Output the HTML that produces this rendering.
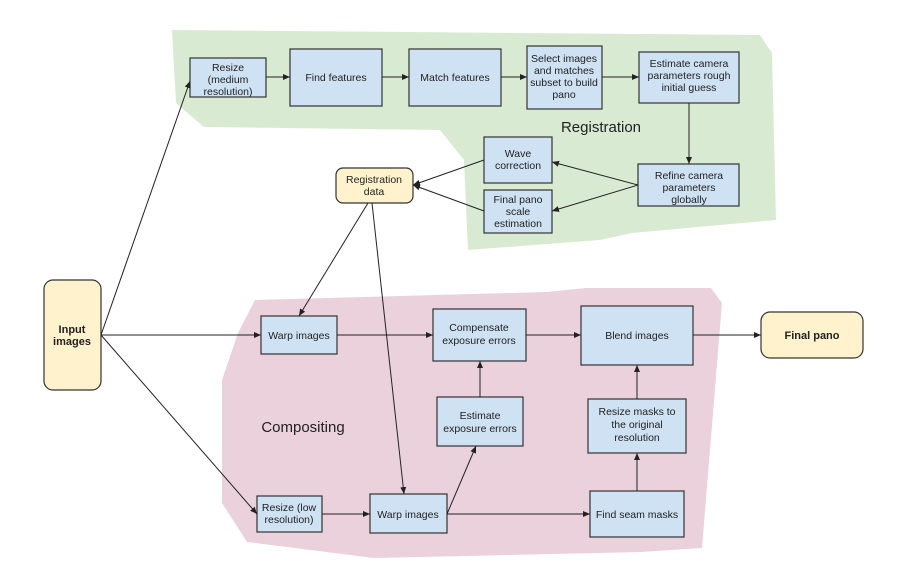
<!DOCTYPE html>
<html><head><meta charset="utf-8"><style>
html,body{margin:0;padding:0;background:#fff;}
</style></head><body>
<svg width="920" height="577" viewBox="0 0 920 577" xmlns="http://www.w3.org/2000/svg" font-family="Liberation Sans, sans-serif">
<defs><marker id="a" markerWidth="8" markerHeight="8" refX="7" refY="4" orient="auto" markerUnits="userSpaceOnUse"><path d="M0,1 L7,4 L0,7 z" fill="#222"/></marker></defs>
<polygon points="172,30 760,35 772,53 776,220 632,233 600,240 468,250 464,160 440,130 204,127 176,103" fill="#d9ead3"/>
<polygon points="255,300 547,292 586,288 711,288 722,303 702,548 641,552 374,558 247,542 222,503 222,380 238,333" fill="#ead1dc"/>
<g fill="#cfe2f3" stroke="#333" stroke-width="1.2">
<rect x="190" y="58" width="76" height="39"/>
<rect x="290" y="49" width="92" height="57"/>
<rect x="409" y="49" width="92" height="57"/>
<rect x="527" y="46" width="75" height="63"/>
<rect x="639" y="52" width="100" height="51"/>
<rect x="484" y="137" width="68" height="46"/>
<rect x="484" y="190" width="68" height="43"/>
<rect x="638" y="164" width="101" height="42"/>
<rect x="261" y="316" width="76" height="38"/>
<rect x="433" y="309" width="93" height="52"/>
<rect x="581" y="306" width="112" height="59"/>
<rect x="437" y="397" width="86" height="49"/>
<rect x="588" y="399" width="98" height="54"/>
<rect x="257" y="496" width="65" height="36"/>
<rect x="370" y="494" width="77" height="39"/>
<rect x="590" y="491" width="94" height="46"/>
</g>
<g fill="#fff2cc" stroke="#333" stroke-width="1.2">
<rect x="336" y="168" width="77" height="35" rx="7"/>
<rect x="44" y="280" width="57" height="110" rx="9"/>
<rect x="761" y="312" width="102" height="46" rx="9"/>
</g>
<g stroke="#222" stroke-width="1" fill="none" marker-end="url(#a)">
<line x1="266" y1="77" x2="290" y2="77"/>
<line x1="382" y1="77" x2="409" y2="77"/>
<line x1="501" y1="77" x2="527" y2="77"/>
<line x1="602" y1="77" x2="639" y2="77"/>
<line x1="689" y1="103" x2="689" y2="164"/>
<line x1="638" y1="185" x2="552" y2="162"/>
<line x1="638" y1="185" x2="552" y2="211"/>
<line x1="484" y1="160" x2="413" y2="185"/>
<line x1="484" y1="211" x2="413" y2="185"/>
<line x1="101" y1="335" x2="190" y2="81"/>
<line x1="101" y1="335" x2="261" y2="335"/>
<line x1="101" y1="335" x2="257" y2="514"/>
<line x1="368" y1="203" x2="299" y2="316"/>
<line x1="372" y1="203" x2="404" y2="494"/>
<line x1="337" y1="335" x2="433" y2="335"/>
<line x1="526" y1="335" x2="581" y2="335"/>
<line x1="693" y1="335" x2="761" y2="335"/>
<line x1="480" y1="397" x2="480" y2="361"/>
<line x1="637" y1="399" x2="637" y2="365"/>
<line x1="637" y1="491" x2="637" y2="453"/>
<line x1="322" y1="514" x2="370" y2="514"/>
<line x1="447" y1="514" x2="590" y2="514"/>
<line x1="447" y1="514" x2="476" y2="446"/>
</g>
<g font-size="10.5" fill="#222" text-anchor="middle">
<text x="228" y="71">Resize</text><text x="228" y="83">(medium</text><text x="228" y="95">resolution)</text>
<text x="336" y="81">Find features</text>
<text x="455" y="81">Match features</text>
<text x="564" y="62">Select images</text><text x="564" y="74">and matches</text><text x="564" y="86">subset to build</text><text x="564" y="98">pano</text>
<text x="689" y="67">Estimate camera</text><text x="689" y="79">parameters rough</text><text x="689" y="91">initial guess</text>
<text x="518" y="157">Wave</text><text x="518" y="169">correction</text>
<text x="518" y="203">Final pano</text><text x="518" y="215">scale</text><text x="518" y="227">estimation</text>
<text x="689" y="179">Refine camera</text><text x="689" y="191">parameters</text><text x="689" y="203">globally</text>
<text x="374" y="183">Registration</text><text x="374" y="195">data</text>
<text x="299" y="339">Warp images</text>
<text x="479" y="331">Compensate</text><text x="479" y="344">exposure errors</text>
<text x="637" y="339">Blend images</text>
<text x="480" y="419">Estimate</text><text x="480" y="432">exposure errors</text>
<text x="637" y="415">Resize masks to</text><text x="637" y="428">the original</text><text x="637" y="441">resolution</text>
<text x="289" y="511">Resize (low</text><text x="289" y="523">resolution)</text>
<text x="408" y="518">Warp images</text>
<text x="637" y="518">Find seam masks</text>
</g>
<g font-size="11" font-weight="bold" fill="#222" text-anchor="middle">
<text x="72" y="333">Input</text><text x="72" y="345">images</text>
<text x="812" y="339">Final pano</text>
</g>
<text x="601" y="132" font-size="15" fill="#222" text-anchor="middle">Registration</text>
<text x="303" y="432" font-size="15" fill="#222" text-anchor="middle">Compositing</text>
</svg>
</body></html>
